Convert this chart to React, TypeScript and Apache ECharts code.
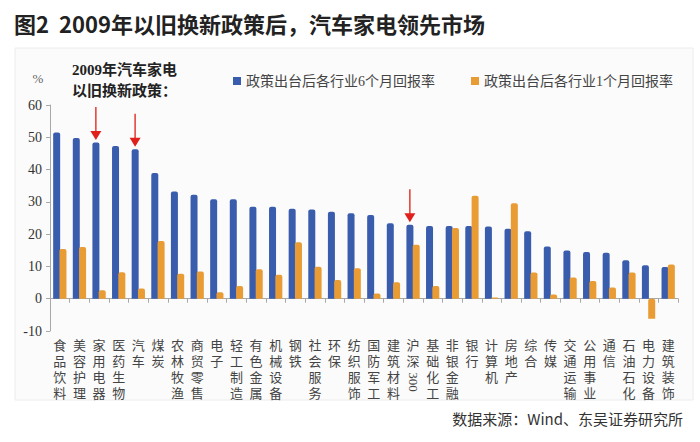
import React, { useEffect, useRef } from "react";
import * as echarts from "echarts";

const categories = [
  "食品饮料", "美容护理", "家用电器", "医药生物", "汽车", "煤炭", "农林牧渔", "商贸零售",
  "电子", "轻工制造", "有色金属", "机械设备", "钢铁", "社会服务", "环保", "纺织服饰",
  "国防军工", "建筑材料", "沪深300", "基础化工", "非银金融", "银行", "计算机", "房地产",
  "综合", "传媒", "交通运输", "公用事业", "通信", "石油石化", "电力设备", "建筑装饰",
];
const sixMonth = [
  51.5, 49.8, 48.4, 47.3, 46.3, 38.9, 33.2, 32.2, 30.8, 30.8, 28.5, 28.5, 27.9, 27.6, 26.9, 26.5,
  25.9, 23.4, 22.9, 22.5, 22.5, 22.5, 22.4, 21.7, 20.9, 16.2, 14.9, 14.5, 14.2, 11.9, 10.4, 9.8,
];
const oneMonth = [
  15.4, 16.0, 2.6, 8.2, 3.2, 17.9, 7.7, 8.4, 2.0, 3.9, 9.1, 7.4, 17.5, 9.9, 5.8, 9.4,
  1.6, 5.1, 16.7, 3.9, 21.9, 31.9, 0.4, 29.6, 8.1, 1.3, 6.6, 5.5, 3.5, 8.1, -6.2, 10.6,
];
const seriesNames = ["政策出台后各行业6个月回报率", "政策出台后各行业1个月回报率"];
const arrowCategories = ["家用电器", "汽车", "沪深300"];
const yTicks = { min: -10, max: 60, interval: 10 };

const BLUE = "#3A5CAD";
const ORANGE = "#E99C33";
const SERIF = "Liberation Serif, Noto Sans CJK SC, serif";
const SANS = "Noto Sans CJK SC, sans-serif";

function labelFor(name: string) {
  if (name === "沪深300") return "沪\n深";
  return name.split("").join("\n");
}

export default function App() {
  const ref = useRef<HTMLDivElement>(null);
  useEffect(() => {
    document.body.style.margin = "0";
    const chart = echarts.init(ref.current!, null, { renderer: "svg" });
    const staticGraphics: any[] = [
      {
        type: "rect",
        shape: { x: 15, y: 48, width: 678, height: 352 },
        style: { fill: "#fbfbfb", stroke: "#ececec", lineWidth: 1 },
        z: -10,
        silent: true,
      },
      {
        type: "text",
        x: 72,
        y: 59,
        style: {
          text: "2009年汽车家电\n以旧换新政策：",
          fontSize: 15,
          fontWeight: "bold",
          fontFamily: SERIF,
          lineHeight: 21,
          fill: "#222",
        },
      },
      {
        type: "text",
        x: 38,
        y: 78,
        style: { text: "%", fontSize: 13, fontFamily: SERIF, fill: "#666", align: "center", verticalAlign: "middle" },
      },
      {
        type: "text",
        x: 683,
        y: 418,
        style: {
          text: "数据来源：Wind、东吴证券研究所",
          fontSize: 15,
          fontFamily: SANS,
          fill: "#333",
          align: "right",
          verticalAlign: "middle",
        },
      },
    ];
    const option: any = {
      animation: false,
      backgroundColor: "#fff",
      title: {
        text: "图2  2009年以旧换新政策后，汽车家电领先市场",
        left: 9,
        top: 7,
        textStyle: { fontSize: 22, fontWeight: "bold", fontFamily: SANS, color: "#222" },
      },
      legend: {
        left: 228,
        top: 69,
        icon: "rect",
        itemWidth: 8,
        itemHeight: 8,
        itemGap: 36,
        textStyle: { fontSize: 14, fontFamily: SERIF, color: "#444" },
        data: seriesNames,
      },
      grid: { left: 50, right: 22, top: 105, bottom: 111, containLabel: false },
      xAxis: {
        type: "category",
        data: categories,
        axisLine: { onZero: true, lineStyle: { color: "#a8a8a8", width: 1 } },
        axisTick: { show: true, length: 4, lineStyle: { color: "#a8a8a8" } },
        axisLabel: {
          interval: 0,
          margin: 6,
          fontSize: 13,
          lineHeight: 16,
          fontFamily: SERIF,
          color: "#444",
          verticalAlign: "top",
          formatter: (v: string) => labelFor(v),
        },
      },
      yAxis: {
        type: "value",
        min: yTicks.min,
        max: yTicks.max,
        interval: yTicks.interval,
        splitLine: { show: false },
        axisLine: { show: true, lineStyle: { color: "#a8a8a8", width: 1 } },
        axisTick: { show: true, length: 4, lineStyle: { color: "#a8a8a8" } },
        axisLabel: { fontSize: 14, fontFamily: SERIF, color: "#333", margin: 8 },
      },
      series: [
        {
          name: seriesNames[0],
          type: "bar",
          data: sixMonth,
          barWidth: 7,
          barGap: "-10%",
          itemStyle: { color: BLUE, borderRadius: [2, 2, 0, 0] },
        },
        {
          name: seriesNames[1],
          type: "bar",
          data: oneMonth,
          barWidth: 7,
          itemStyle: { color: ORANGE, borderRadius: [2, 2, 0, 0] },
        },
      ],
      graphic: staticGraphics,
    };
    chart.setOption(option);

    const extra: any[] = [];
    arrowCategories.forEach((name) => {
      const idx = categories.indexOf(name);
      const p = chart.convertToPixel({ seriesIndex: 0 }, [idx, sixMonth[idx]]) as number[];
      const x = p[0] - 3.2;
      const tip = p[1] - 2.5;
      const headH = 9;
      extra.push({
        type: "line",
        shape: { x1: x, y1: tip - 33, x2: x, y2: tip - headH + 1 },
        style: { stroke: "#e23a2e", lineWidth: 1.5 },
      });
      extra.push({
        type: "polygon",
        shape: { points: [[x - 5.5, tip - headH], [x + 5.5, tip - headH], [x, tip]] },
        style: { fill: "#e0201c" },
      });
    });
    const hs = categories.indexOf("沪深300");
    const hp = chart.convertToPixel({ seriesIndex: 0 }, [hs, 0]) as number[];
    extra.push({
      type: "text",
      x: hp[0],
      y: 382,
      rotation: -Math.PI / 2,
      style: {
        text: "300",
        fontSize: 13,
        fontFamily: SERIF,
        fill: "#444",
        align: "center",
        verticalAlign: "middle",
      },
    });
    chart.setOption({ graphic: [...staticGraphics, ...extra] }, { replaceMerge: ["graphic"] } as any);

    return () => chart.dispose();
  }, []);
  return <div ref={ref} style={{ position: "absolute", left: 0, top: 0, width: 700, height: 442 }} />;
}
